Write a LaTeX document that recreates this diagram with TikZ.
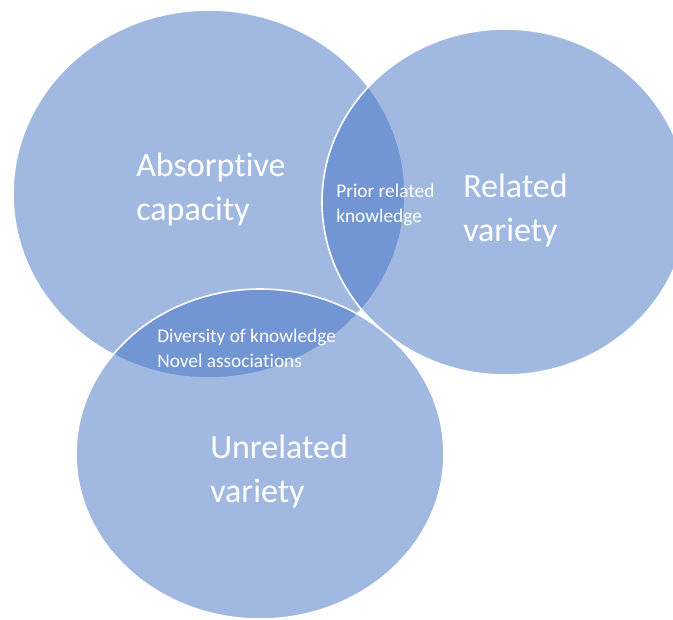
\documentclass[tikz,border=0pt]{standalone}
\usepackage{fontspec}
\setmainfont[Ligatures=NoCommon]{Carlito}

\definecolor{vennblue}{HTML}{4472C4}
\tikzset{
  venn/.style = {fill=vennblue, fill opacity=0.5, draw=white, line width=1.2pt},
  bigtext/.style = {text=white, align=left, anchor=base west, inner sep=0pt,
                    font=\fontsize{25.5}{33}\selectfont},
  smalltext/.style = {bigtext, font=\fontsize{14.5}{18.75}\selectfont}
}

\begin{document}
\begin{tikzpicture}[x = 0.75pt, y = -0.75pt]

\useasboundingbox (0,0) rectangle (673,619);
\clip (0,0) rectangle (673,619);

% the three sets
\draw [venn] (209,194) ellipse [x radius = 196, y radius = 184];
\draw [venn] (505,202) ellipse [x radius = 183, y radius = 173];
\draw [venn] (260,454) ellipse [x radius = 184, y radius = 165];

% labels (base = last line)
\node [bigtext] (absorb) at (136,220) {Absorptive\\capacity};
\node [bigtext] (related) at (463,241) {Related\\variety};
\node [bigtext] (unrelated) at (210,502) {Unrelated\\variety};
\node [smalltext] (prior) at (336,222) {Prior related\\knowledge};
\node [smalltext] (diverse) at (157,367) {Diversity of knowledge\\Novel associations};

\end{tikzpicture}
\end{document}
